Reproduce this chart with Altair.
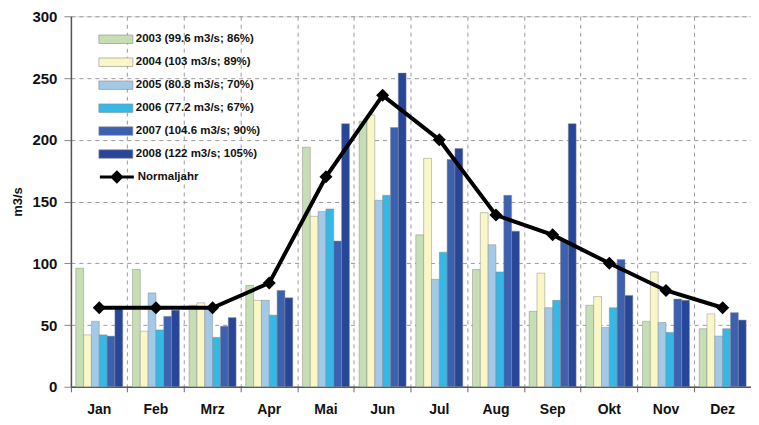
import altair as alt
import pandas as pd

months = ["Jan", "Feb", "Mrz", "Apr", "Mai", "Jun", "Jul", "Aug", "Sep", "Okt", "Nov", "Dez"]
series = [
    "2003 (99.6 m3/s; 86%)",
    "2004 (103 m3/s; 89%)",
    "2005 (80.8 m3/s; 70%)",
    "2006 (77.2 m3/s; 67%)",
    "2007 (104.6 m3/s; 90%)",
    "2008 (122 m3/s; 105%)",
]
colors = ["#c5deb3", "#f9f7c6", "#a2c9e8", "#35b8e6", "#3b61b0", "#27469a"]

v2003 = [96, 95, 66, 82, 194, 215, 123, 95, 61, 66, 53, 47]
v2004 = [42, 45, 68, 70, 138, 220, 185, 141, 92, 73, 93, 59]
v2005 = [53, 76, 65, 70, 142, 151, 87, 115, 64, 48, 52, 41]
v2006 = [42, 46, 40, 58, 144, 155, 109, 93, 70, 64, 44, 47]
v2007 = [41, 57, 49, 78, 118, 210, 184, 155, 118, 103, 71, 60]
v2008 = [63, 62, 56, 72, 213, 254, 193, 126, 213, 74, 70, 54]
normal = [64, 64, 64, 84, 170, 236, 200, 139, 123, 100, 78, 64]

rows = []
for s, vals in zip(series, [v2003, v2004, v2005, v2006, v2007, v2008]):
    for m, v in zip(months, vals):
        rows.append({"Monat": m, "Serie": s, "Wert": v})
bars_df = pd.DataFrame(rows)
line_df = pd.DataFrame({"Monat": months, "Wert": normal, "Serie": ["Normaljahr"] * 12})

font = "Liberation Sans"

x_enc = alt.X(
    "Monat:N",
    sort=months,
    scale=alt.Scale(paddingInner=0, paddingOuter=0),
    axis=alt.Axis(
        title=None,
        grid=True,
        gridDash=[4, 4],
        gridColor="#9a9a9a",
        bandPosition=0,
        labelAngle=0,
        labelFont=font,
        labelFontSize=14,
        labelFontWeight="bold",
        labelColor="#111111",
        labelPadding=11,
        tickSize=5,
        tickColor="#666666",
        domainColor="#555555",
        domainWidth=1.5,
    ),
)

y_enc = alt.Y(
    "Wert:Q",
    scale=alt.Scale(domain=[0, 300], nice=False),
    axis=alt.Axis(
        title="m3/s",
        values=[0, 50, 100, 150, 200, 250, 300],
        grid=True,
        gridDash=[4, 4],
        gridColor="#9a9a9a",
        labelFont=font,
        labelFontSize=15,
        labelFontWeight="bold",
        labelColor="#111111",
        labelPadding=7,
        tickSize=7,
        tickColor="#888888",
        domainColor="#555555",
        domainWidth=1.5,
        titleFont=font,
        titleFontSize=13,
        titleFontWeight="bold",
        titleColor="#111111",
        titlePadding=7,
    ),
)

bars = alt.Chart(bars_df).mark_bar(stroke="#8a8a8a", strokeWidth=0.6, strokeOpacity=0.8).encode(
    x=x_enc,
    xOffset=alt.XOffset("Serie:N", sort=series, scale=alt.Scale(paddingInner=0, paddingOuter=0.62)),
    y=y_enc,
    fill=alt.Fill(
        "Serie:N",
        sort=series,
        scale=alt.Scale(domain=series, range=colors),
        legend=alt.Legend(
            title=None,
            orient="none",
            legendX=36,
            legendY=14,
            symbolType="M-2,-0.5H2V0.5H-2Z",
            symbolSize=289,
            symbolStrokeColor="#8a8a8a",
            symbolStrokeWidth=0.6,
            labelOffset=11,
            labelFont=font,
            labelFontSize=11.5,
            labelFontWeight="bold",
            labelColor="#111111",
            rowPadding=8,
        ),
    ),
)

line = alt.Chart(line_df).mark_line(strokeWidth=4, color="black").encode(
    x=alt.X("Monat:N", sort=months),
    y="Wert:Q",
    stroke=alt.Stroke(
        "Serie:N",
        scale=alt.Scale(domain=["Normaljahr"], range=["black"]),
        legend=alt.Legend(
            title=None,
            orient="none",
            legendX=36,
            legendY=151,
            symbolType="M-2,0H2M0,-0.55L0.55,0L0,0.55L-0.55,0Z",
            symbolSize=289,
            symbolStrokeWidth=3,
            symbolFillColor="black",
            labelOffset=11,
            labelFont=font,
            labelFontSize=11.5,
            labelFontWeight="bold",
            labelColor="#111111",
        ),
    ),
)

points = alt.Chart(line_df).mark_point(shape="diamond", filled=True, size=170, color="black", opacity=1).encode(
    x=alt.X("Monat:N", sort=months),
    y="Wert:Q",
)

chart = (
    alt.layer(bars, line, points)
    .resolve_scale(fill="independent", stroke="independent")
    .properties(width=681, height=371, padding={"left": 3, "top": 1, "right": 0, "bottom": 0})
    .configure_view(stroke=None)
    .configure(background="white")
)

chart.save("out.html", embed_options={"renderer": "svg", "actions": False})
